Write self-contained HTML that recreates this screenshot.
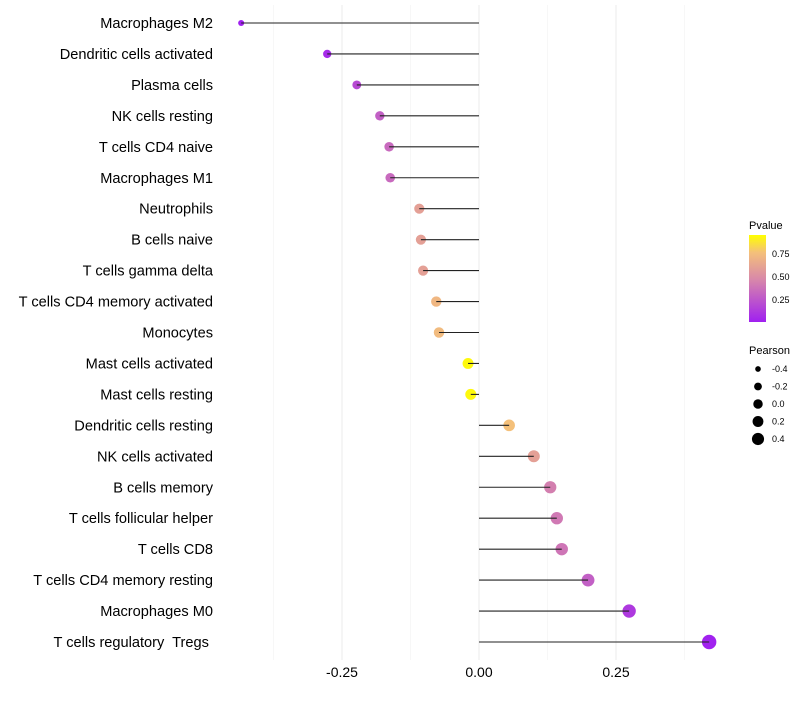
<!DOCTYPE html>
<html><head><meta charset="utf-8"><style>
body{margin:0;background:#fff;font-family:"Liberation Sans",sans-serif}
text{white-space:pre}
</style></head><body>
<svg id="c" width="800" height="700" xmlns="http://www.w3.org/2000/svg" font-family="Liberation Sans, sans-serif">
<defs><linearGradient id="g" x1="0" y1="1" x2="0" y2="0">
<stop offset="0" stop-color="#a020f0"/><stop offset="0.5" stop-color="#d98aa8"/><stop offset="0.8" stop-color="#f4c07a"/><stop offset="1" stop-color="#ffff00"/></linearGradient></defs>
<g id="grid"></g><g id="dots"></g><g id="marks"></g><g id="labels"></g>
<g>
<text x="749" y="229" font-size="11">Pvalue</text>
<rect x="749" y="235" width="17" height="87" fill="url(#g)"/>
<text x="772" y="257" font-size="9">0.75</text>
<text x="772" y="280" font-size="9">0.50</text>
<text x="772" y="303" font-size="9">0.25</text>
</g>
<g id="sizeleg">
<text x="749" y="354" font-size="11">Pearson</text>
</g>
</svg>
<script>
const categories=["Macrophages M2","Dendritic cells activated","Plasma cells","NK cells resting","T cells CD4 naive","Macrophages M1","Neutrophils","B cells naive","T cells gamma delta","T cells CD4 memory activated","Monocytes","Mast cells activated","Mast cells resting","Dendritic cells resting","NK cells activated","B cells memory","T cells follicular helper","T cells CD8","T cells CD4 memory resting","Macrophages M0","T cells regulatory  Tregs "];
const pearson=[-0.434,-0.277,-0.223,-0.181,-0.164,-0.162,-0.109,-0.106,-0.102,-0.078,-0.073,-0.020,-0.015,0.055,0.100,0.130,0.142,0.151,0.199,0.274,0.420];
const pvalue=[0.0,0.05,0.2,0.3,0.35,0.35,0.62,0.62,0.62,0.75,0.77,0.98,0.98,0.8,0.62,0.45,0.42,0.4,0.3,0.12,0.01];
const xTicks=[-0.25,0,0.25];
const xTickLabels=["-0.25","0.00","0.25"];
const sizeLegend=[-0.4,-0.2,0,0.2,0.4];
const NS="http://www.w3.org/2000/svg";
const X=v=>479+v*548;
const Y=i=>23+i*30.95;
const R=v=>Math.sqrt(Math.max(2.25,30+50*(v+0.02)));
function col(p){const st=[[0,[160,32,240]],[0.5,[217,138,168]],[0.8,[244,192,122]],[1,[255,255,0]]];
for(let k=1;k<st.length;k++){if(p<=st[k][0]){const a=st[k-1],b=st[k],t=(p-a[0])/(b[0]-a[0]);return "rgb("+a[1].map((c,j)=>Math.round(c+(b[1][j]-c)*t)).join(",")+")";}}return "rgb(255,255,0)";}
function mk(tag,at,parent){const e=document.createElementNS(NS,tag);for(const k in at)e.setAttribute(k,at[k]);document.getElementById(parent).appendChild(e);return e;}
[-0.375,-0.125,0.125,0.375].forEach(v=>{const l=mk('line',{x1:X(v),x2:X(v),y1:5,y2:660,stroke:'#f2f2f2','stroke-width':0.6},'grid');

});
xTicks.forEach((v,i)=>{const l=mk('line',{x1:X(v),x2:X(v),y1:5,y2:660,stroke:'#ebebeb','stroke-width':1},'grid');


const t=mk('text',{x:X(v),y:677,'font-size':14,'text-anchor':'middle',fill:'#000'},'labels');t.textContent=xTickLabels[i];

});
categories.forEach((c,i)=>{
const d=mk('circle',{cx:X(pearson[i]),cy:Y(i),r:R(pearson[i]),fill:col(pvalue[i])},'dots');


const l=mk('line',{x1:X(0),x2:X(pearson[i]),y1:Y(i),y2:Y(i),stroke:'#222','stroke-width':1.1},'marks');


const t=mk('text',{x:213,y:Y(i)+5,'font-size':14.6,'text-anchor':'end',fill:'#000'},'labels');t.textContent=c;

});
sizeLegend.forEach((v,i)=>{const y=369+i*17.5;
const d=mk('circle',{cx:758,cy:y,r:R(v)*0.85,fill:'#000'},'sizeleg');


const t=mk('text',{x:772,y:y+3,'font-size':9},'sizeleg');t.textContent=v===0?"0.0":String(v);

});
</script>
</body></html>
